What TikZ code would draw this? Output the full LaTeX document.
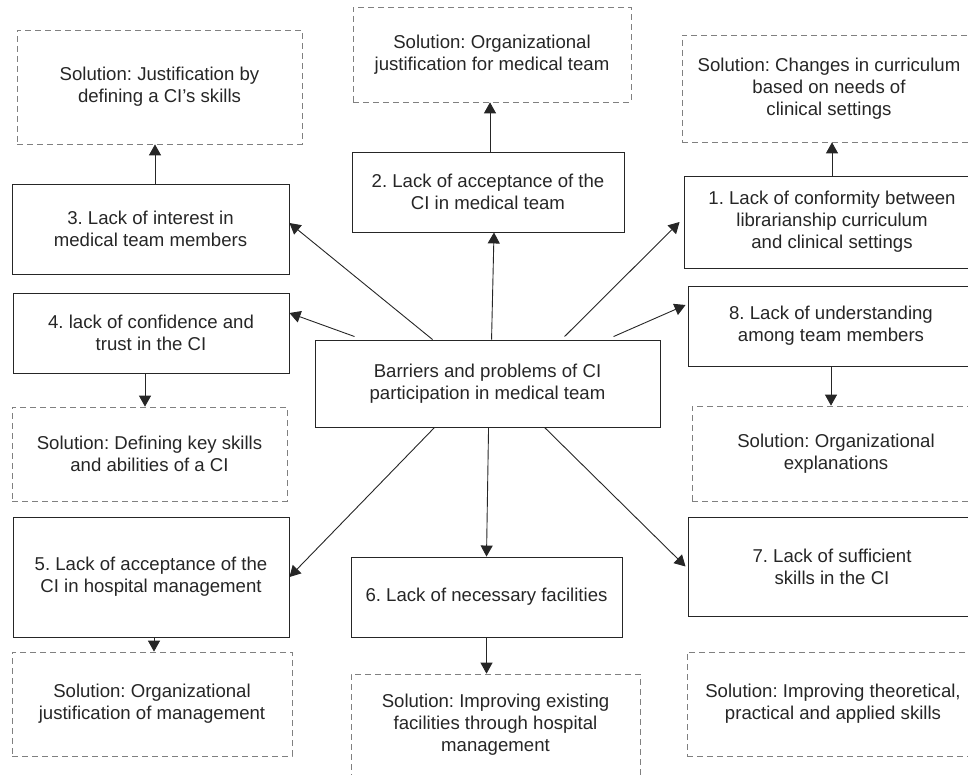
\documentclass[tikz,border=0pt]{standalone}
\usepackage{fontspec}
\setmainfont{Liberation Sans}
\usepackage{tikz}
\usetikzlibrary{arrows.meta}
\frenchspacing
\tikzset{prob/.style={draw=black!85,line width=0.9pt,align=center,inner sep=0pt,text=black!85},
         sol/.style={draw=black!50,line width=0.7pt,dash pattern=on 6pt off 4pt,align=center,inner sep=0pt,text=black!85},
         sz/.style 2 args={minimum width=#1pt,minimum height=#2pt}}

\begin{document}
\begin{tikzpicture}[x=1pt,y=-1pt,>={Triangle[length=11pt,width=12pt]},font=\fontsize{18.6}{22}\selectfont]
        \path[use as bounding box,clip] (0,0) rectangle (968,775);
        % solutions
        \node[sol,sz={285}{114}] (s3) at (159.5,87) {Solution: Justification by\\defining a CI's skills};
        \node[sol,sz={278}{95}] (s2) at (492,54.5) {Solution: Organizational\\justification for medical team};
        \node[sol,sz={294}{107}] (s1) at (829,88.5) {Solution: Changes in curriculum\\based on needs of\\clinical settings};
        \node[sol,sz={275}{94}] (s4) at (149.5,454) {Solution: Defining key skills\\and abilities of a CI};
        \node[sol,sz={288}{95}] (s8) at (836,453.5) {Solution: Organizational\\explanations};
        \node[sol,sz={280}{104}] (s5) at (152,704) {Solution: Organizational\\justification of management};
        \node[sol,sz={289}{102}] (s6) at (495.5,725) {Solution: Improving existing\\facilities through hospital\\management};
        \node[sol,sz={292}{104}] (s7) at (833,704) {Solution: Improving theoretical,\\practical and applied skills};
        % problems
        \node[prob,sz={296}{92}] (b1) at (832,222) {1. Lack of conformity between\\librarianship curriculum\\and clinical settings};
        \node[prob,sz={272}{80}] (b2) at (488,192) {2. Lack of acceptance of the\\CI in medical team};
        \node[prob,sz={277}{90}] (b3) at (150.5,229) {3. Lack of interest in\\medical team members};
        \node[prob,sz={276}{80}] (b4) at (151,333) {4. lack of confidence and\\trust in the CI};
        \node[prob,sz={276}{120}] (b5) at (151,577) {5. Lack of acceptance of the\\CI in hospital management};
        \node[prob,sz={271}{80}] (b6) at (486.5,597) {6. Lack of necessary facilities};
        \node[prob,sz={288}{99}] (b7) at (832,566.5) {7. Lack of sufficient\\skills in the CI};
        \node[prob,sz={286}{80}] (b8) at (831,326) {8. Lack of understanding\\among team members};
        \node[prob,sz={345}{87}] (ctr) at (487.5,383.5) {Barriers and problems of CI\\participation in medical team};

        \begin{scope}[draw=black!85,line width=0.9pt]
        \draw[->] ([xshift=40pt,yshift=3pt]ctr.north west) -- ([yshift=20pt]b4.east);
        \draw[->] ([xshift=118pt]ctr.north west) -- ([yshift=6pt]b3.east);
        \draw[->] ([xshift=177pt]ctr.north west) -- ([xshift=6pt]b2.south);
        \draw[->] ([xshift=250pt,yshift=3pt]ctr.north west) -- ([xshift=-4pt]b1.west);
        \draw[->] ([xshift=299pt,yshift=3pt]ctr.north west) -- ([xshift=-2pt,yshift=21pt]b8.west);
        \draw[->] ([xshift=120pt]ctr.south west) -- (b5.east);
        \draw[->] ([xshift=174pt]ctr.south west) -- (b6.north);
        \draw[->] ([xshift=230pt]ctr.south west) -- ([xshift=-2pt]b7.west);

        \coordinate (a3) at ([xshift=4.5pt]b3.north);
        \coordinate (a2) at ([xshift=2pt]b2.north);
        \coordinate (a4) at ([xshift=-6pt]b4.south);
        \coordinate (a5) at ([xshift=3pt]b5.south);
        \draw[->] (a3) -- (a3 |- s3.south);
        \draw[->] (a2) -- (a2 |- s2.south);
        \draw[->] (b1.north) -- (b1.north |- s1.south);
        \draw[->] (a4) -- (a4 |- s4.north);
        \draw[->] (b8.south) -- (b8.south |- s8.north);
        \draw[->] (a5) -- (a5 |- s5.north);
        \draw[->] (b6.south) -- (b6.south |- s6.north);
        \end{scope}
    \end{tikzpicture}
\end{document}
